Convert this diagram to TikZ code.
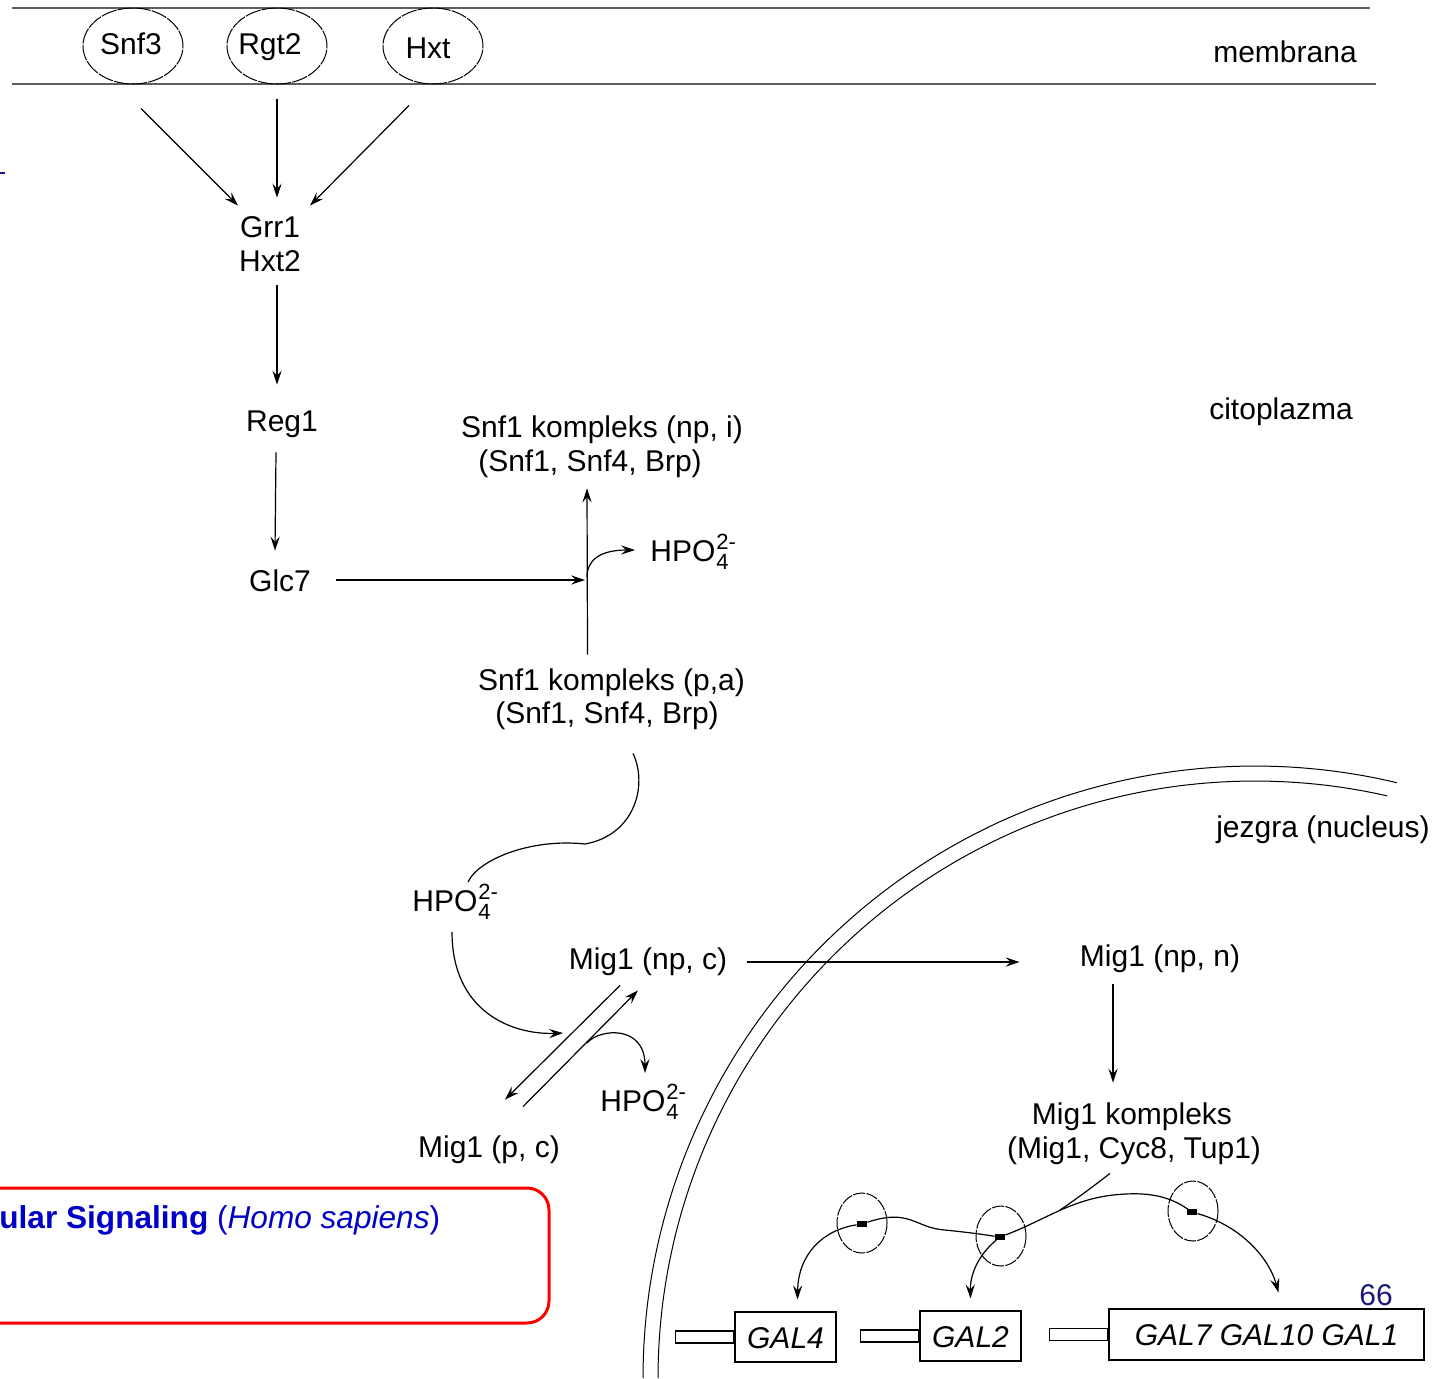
\documentclass[tikz,border=0pt]{standalone}
\usepackage{fontspec}
\setmainfont{Liberation Sans}
\usetikzlibrary{arrows.meta,shapes.geometric}
\definecolor{membgray}{RGB}{95,95,95}
\definecolor{linkblue}{RGB}{0,0,200}
\definecolor{pagenavy}{RGB}{25,25,120}
% phosphate ion with stacked sub- and superscript
\newcommand\hpoion{HPO\kern0.5pt\rlap{\raisebox{-4pt}{\fontsize{11pt}{11pt}\selectfont 4}}%
  \raisebox{5.8pt}{\fontsize{11pt}{11pt}\selectfont 2-}}

\begin{document}
\begin{tikzpicture}[x=0.5pt,y=-0.5pt,
  every node/.style={font=\fontsize{15pt}{18pt}\selectfont},
  lbl/.style={inner sep=0pt, text height=11pt, text depth=0pt},
  ln/.style={line width=0.6pt},
  arr/.style={line width=0.6pt, -{Stealth[length=7pt,width=4.6pt,inset=2.6pt]}},
  memb/.style={membgray, line width=1pt},
  prot/.style={draw, ellipse, line width=0.5pt, dash pattern=on 8pt off 0.6pt,
               inner sep=0pt, minimum width=50pt, minimum height=38pt},
  rep/.style={draw, ellipse, line width=0.5pt, dash pattern=on 6pt off 0.7pt,
              inner sep=0pt, minimum width=25pt, minimum height=30pt},
  repmark/.style={fill=black, inner sep=0pt, minimum width=5pt, minimum height=2.6pt},
  gene/.style={draw, line width=0.6pt, inner sep=0pt, minimum height=25pt,
               text height=11pt, text depth=0pt,
               font=\fontsize{15pt}{18pt}\selectfont\itshape},
  prom/.style={draw, line width=0.6pt, inner sep=0pt, minimum width=29pt, minimum height=6pt}]

\useasboundingbox (0,0) rectangle (1449,1378);

% cell membrane
\draw[memb] (12,8) -- (1370,8);
\draw[memb] (12,84) -- (1376,84);
\node[lbl] (membl) at (1285,51) {membrana};

% membrane sensors and transporters
\node[prot] (snf3e) at (133,46) {};
\node[prot] (rgt2e) at (277,46) {};
\node[prot] (hxte)  at (433,46) {};
\node[lbl] (snf3) at (131,43) {Snf3};
\node[lbl] (rgt2) at (270,43) {Rgt2};
\node[lbl] (hxt)  at (428,47) {Hxt};

% cytoplasm
\node[lbl] (citol) at (1281,408) {citoplazma};
\node[lbl] (grr)  at (270,226) {Grr1};
\node[lbl] (hxt2) at (270,260) {Hxt2};
\node[lbl] (reg)  at (282,420) {Reg1};
\node[lbl] (glc)  at (280,580) {Glc7};
\node[lbl] (snfi1) at (602,426) {Snf1 kompleks (np, i)};
\node[lbl] (snfi2) at (590,460) {(Snf1, Snf4, Brp)};
\node[lbl] (snfa1) at (611.5,679) {Snf1 kompleks (p,a)};
\node[lbl] (snfa2) at (607,712) {(Snf1, Snf4, Brp)};
\node[lbl, anchor=west] (hpo1) at (650,550) {\hpoion};
\node[lbl, anchor=west] (hpo2) at (412,900) {\hpoion};
\node[lbl, anchor=west] (hpo3) at (600,1100) {\hpoion};
\node[lbl] (migc) at (648,958) {Mig1 (np, c)};
\node[lbl] (migp) at (489,1146) {Mig1 (p, c)};

% nucleus envelope
\draw[line width=0.5pt] plot[domain=180:283.4, samples=90, smooth]
  ({1255+612*cos(\x)}, {1378+612*sin(\x)});
\draw[line width=0.5pt] plot[domain=180:282.8, samples=90, smooth]
  ({1255+597*cos(\x)}, {1378+597*sin(\x)});
\node[lbl] (nucl) at (1323,826) {jezgra (nucleus)};

% nucleus
\node[lbl] (mign)  at (1160,955) {Mig1 (np, n)};
\node[lbl] (migk)  at (1132,1113) {Mig1 kompleks};
\node[lbl] (migk2) at (1134,1147) {(Mig1, Cyc8, Tup1)};

\node[rep] (e1) at (862,1223) {};
\node[rep] (e2) at (1001,1236) {};
\node[rep] (e3) at (1193,1211) {};
\node[repmark] (m1) at (862,1224) {};
\node[repmark] (m2) at (1000,1237) {};
\node[repmark] (m3) at (1192,1212) {};

\node[gene, minimum width=50.5pt] (g4) at (785.5,1337) {GAL4};
\node[gene, minimum width=50.5pt] (g2) at (970.5,1336) {GAL2};
\node[gene, minimum width=157.5pt, minimum height=25.5pt] (g7) at (1266.5,1334.5) {GAL7 GAL10 GAL1};
\node[prom, anchor=east] (p4) at (g4.west) {};
\node[prom, anchor=east] (p2) at (g2.west) {};
\node[prom, anchor=east] (p7) at (g7.west) {};

% connector helper points
\coordinate (jn)  at (587,580);
\coordinate (pin) at (563,1033);
\coordinate (rel) at (587,1043);
\coordinate (wj)  at (1060,1210);
\coordinate (wlow) at (945,1230);
\coordinate (wtop) at (1113,1195);
\coordinate (wbend) at (585,844);

% signalling from the membrane
\draw[arr] ([shift={(8,24)}]snf3e.south) -- ([shift={(-32,-9)}]grr.north);
\draw[arr] ([shift={(0,14)}]rgt2e.south) -- ([shift={(7,-17)}]grr.north);
\draw[arr] ([shift={(-24,21)}]hxte.south) -- ([shift={(40,-9)}]grr.north);
\draw[arr] ([shift={(7,14)}]hxt2.south) -- ([shift={(-5,-24)}]reg.north);
\draw[arr] ([shift={(-6,21)}]reg.south) -- ([shift={(-5,-18)}]glc.north);
\draw[arr] ([xshift=12.5pt]glc.east) -- ([xshift=-1pt]jn);

% Snf1 dephosphorylation
\draw[arr] ([shift={(-24,-13)}]snfa1.north) -- ([shift={(-3,17)}]snfi2.south);
\draw[arr] ([shift={(0,-3)}]jn) .. controls (587,560) and (600,550) .. ([xshift=-7.5pt]hpo1.west);

% phosphate transfer to Mig1
\draw[ln] ([shift={(26,30)}]snfa2.south) .. controls (648,785) and (635,835) .. (wbend)
  .. controls (530,838) and (478,860) .. ([shift={(56,-18)}]hpo2.west);
\draw[arr] ([shift={(40,32)}]hpo2.west) .. controls (452,1010) and (510,1035) .. (pin);
\draw[arr] ([shift={(-28,16)}]migc.south) -- ([shift={(16,-35)}]migp.north);
\draw[arr] ([shift={(34,-28)}]migp.north) -- ([shift={(-10,21)}]migc.south);
\draw[arr] (rel) .. controls (600,1028) and (645,1025) .. ([shift={(45,-27)}]hpo3.west);

% import into the nucleus and repression
\draw[arr] ([shift={(19,4)}]migc.east) -- ([shift={(-60,7)}]mign.west);
\draw[arr] ([shift={(-47,18)}]mign.south) -- ([shift={(-19,-19)}]migk.north);
\draw[ln] ([shift={(-24,15)}]migk2.south) .. controls (1095,1185) and (1075,1200) .. (wj);
\draw[ln] ([shift={(11,-10)}]m1) .. controls (910,1208) and (915,1228) .. (wlow)
  .. controls (965,1232) and (980,1234) .. ([shift={(-7,-3)}]m2);
\draw[ln] ([shift={(12,-8)}]m2) .. controls (1045,1220) and (1070,1200) .. (wtop)
  .. controls (1150,1191) and (1170,1197) .. ([shift={(-9,-7)}]m3);
\draw[arr] ([shift={(-10,-4)}]m1) .. controls (822,1230) and (798,1255) .. ([shift={(12,-12)}]g4.north);
\draw[arr] ([shift={(-8,5)}]m2) .. controls (978,1255) and (970,1275) .. ([shift={(0,-12)}]g2.north);
\draw[arr] ([shift={(11,1)}]m3) .. controls (1238,1225) and (1268,1255) .. ([shift={(12,-16)}]g7.north);

% page furniture
\node[lbl, text=pagenavy] (pg) at (1376,1294) {66};
\draw[pagenavy, line width=1pt] (0,173) -- (5,173);
\draw[red, line width=1.5pt, rounded corners=11pt] (-30,1188) rectangle (549,1323);
\node[anchor=base west, inner sep=0pt, text=linkblue, font=\fontsize{15.8pt}{19pt}\selectfont]
  (sig) at (-1,1228) {\textbf{ular Signaling} (\textit{Homo sapiens})};
\end{tikzpicture}
\end{document}
